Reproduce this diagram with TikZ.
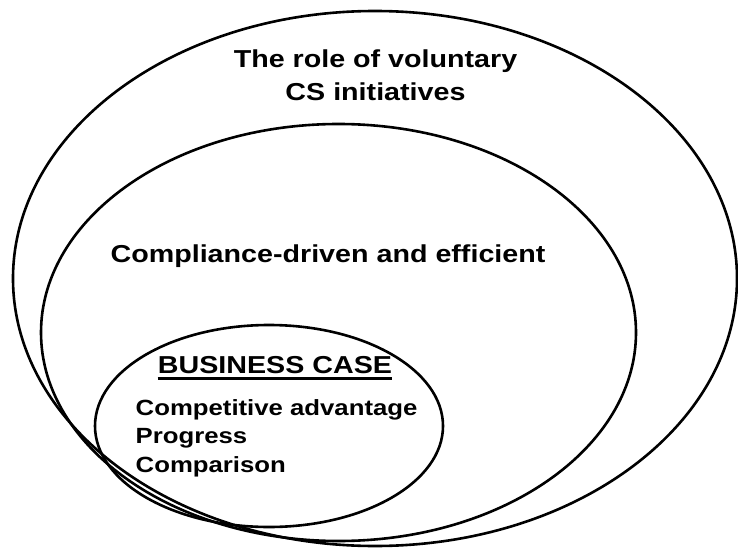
\documentclass[tikz,border=0pt]{standalone}
\usepackage{fontspec}
\setmainfont[FakeStretch=1.17]{Liberation Sans}
\usepackage{tikz}

\tikzset{
    rim/.style={draw, line width=2.6pt},
    head/.style={font=\bfseries\fontsize{24.5}{32.5}\selectfont, inner sep=0pt, align=center},
    item/.style={font=\bfseries\fontsize{22}{28.5}\selectfont, inner sep=0pt, align=left}
}

\begin{document}
\begin{tikzpicture}[x=1pt, y=-1pt]
    \useasboundingbox (0,0) rectangle (738,548);

    % Nested rings, outer to inner
    \draw[rim] (375,278.5) ellipse (362 and 267.5);
    \draw[rim] (338.5,332.5) ellipse (297.5 and 208.5);
    \draw[rim] (269,426) ellipse (174 and 101);

    % Outer ring (base = last line)
    \node[head, anchor=base] (role) at (375.5,100.5) {The role of voluntary\\CS initiatives};

    % Middle ring
    \node[head, anchor=base] (comp) at (328,262) {Compliance-driven and efficient};

    % Inner ring
    \node[head, anchor=base] (bcase) at (275,373.5) {BUSINESS CASE};
    \draw[line width=2.4pt] ([yshift=-5pt]bcase.base west) -- ([yshift=-5pt]bcase.base east);
    \node[item, anchor=base west] (items) at (135.5,472) {Competitive advantage\\Progress\\Comparison};
\end{tikzpicture}
\end{document}
